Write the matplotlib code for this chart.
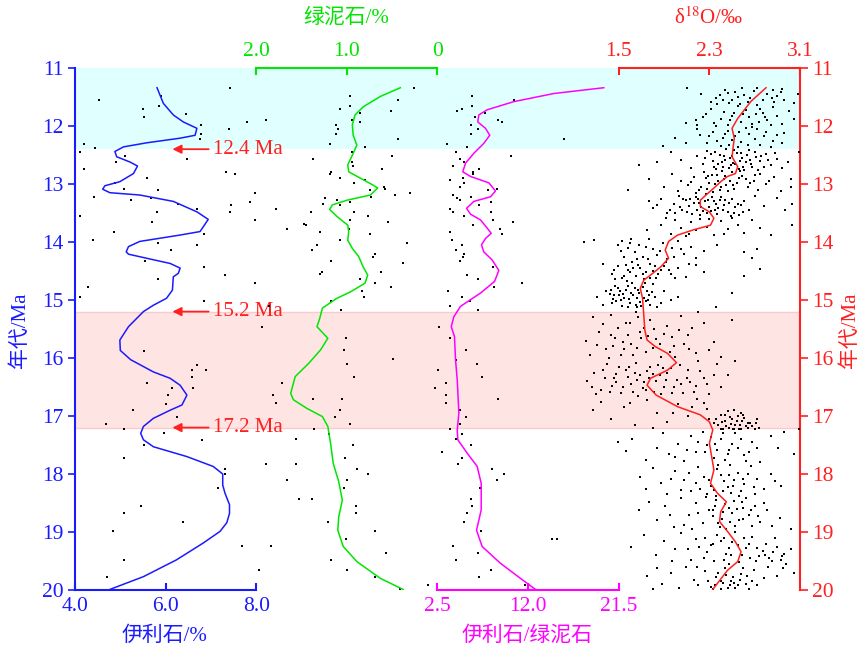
import matplotlib
matplotlib.use("Agg")
import matplotlib.pyplot as plt

plt.rcParams['font.family'] = ['Liberation Serif', 'Noto Sans CJK SC', 'DejaVu Sans']
plt.rcParams['mathtext.fontset'] = 'stix'

# ---------------- data ----------------
ill_age = [11.34, 11.61, 11.81, 11.93, 12.04, 12.16, 12.21, 12.29, 12.36, 12.44, 12.53, 12.62, 12.69, 12.82,
           12.96, 13.03, 13.09, 13.15, 13.19, 13.30, 13.48, 13.61, 13.82, 13.88, 13.99, 14.08, 14.17, 14.21,
           14.28, 14.37, 14.45, 14.54, 14.60, 14.83, 14.97, 15.09, 15.20, 15.46, 15.69, 15.87, 16.03, 16.24,
           16.35, 16.47, 16.64, 16.81, 16.90, 17.04, 17.18, 17.30, 17.41, 17.53, 17.70, 17.87, 18.00, 18.19,
           18.33, 18.53, 18.68, 18.84, 18.99, 19.19, 19.48, 19.77, 19.99]
ill_val = [5.81, 5.95, 6.17, 6.39, 6.69, 6.65, 6.32, 5.58, 5.07, 4.88, 4.92, 5.21, 5.38, 5.29,
           4.99, 4.66, 4.61, 4.77, 5.43, 6.17, 6.69, 6.94, 6.76, 6.32, 5.43, 5.18, 5.13, 5.18,
           5.58, 6.10, 6.32, 6.28, 6.17, 6.15, 6.02, 5.73, 5.51, 5.18, 4.99, 5.00, 5.23, 5.73,
           6.10, 6.32, 6.47, 6.36, 6.10, 5.73, 5.51, 5.45, 5.51, 5.73, 6.47, 7.05, 7.26, 7.26,
           7.31, 7.41, 7.41, 7.35, 7.20, 6.83, 6.24, 5.51, 4.77]

chl_age = [11.34, 11.49, 11.67, 11.81, 11.98, 12.16, 12.33, 12.47, 12.67, 12.79, 12.90, 13.02, 13.07, 13.19,
           13.28, 13.36, 13.44, 13.56, 13.71, 13.82, 13.97, 14.11, 14.25, 14.43, 14.57, 14.71, 14.86, 14.97,
           15.14, 15.32, 15.46, 15.66, 15.86, 16.09, 16.32, 16.61, 16.72, 16.87, 17.01, 17.18, 17.47, 17.82,
           18.13, 18.45, 18.74, 18.97, 19.25, 19.51, 19.80, 19.99]
chl_val = [0.41, 0.63, 0.82, 0.91, 0.94, 0.93, 0.89, 0.93, 0.99, 0.98, 0.85, 0.71, 0.66, 0.74,
           1.00, 1.16, 1.19, 1.11, 0.99, 0.98, 0.99, 0.94, 0.87, 0.82, 0.77, 0.80, 0.96, 1.11,
           1.27, 1.30, 1.33, 1.21, 1.29, 1.42, 1.57, 1.62, 1.59, 1.44, 1.27, 1.21, 1.18, 1.15,
           1.09, 1.05, 1.09, 1.10, 1.04, 0.89, 0.63, 0.38]

ratio_age = [11.34, 11.44, 11.58, 11.72, 11.81, 11.93, 12.04, 12.16, 12.30, 12.47, 12.64, 12.79, 12.87, 12.98,
             13.12, 13.22, 13.30, 13.42, 13.52, 13.62, 13.76, 13.85, 13.94, 14.05, 14.17, 14.31, 14.49, 14.68,
             14.88, 15.11, 15.29, 15.46, 15.63, 16.03, 16.38, 16.95, 17.24, 17.41, 17.64, 17.87, 18.16, 18.62,
             18.97, 19.25, 19.54, 19.80, 19.99]
ratio_val = [19.93, 14.69, 10.50, 7.71, 6.83, 6.72, 7.53, 7.98, 7.35, 6.31, 5.44, 5.15, 5.96, 7.88,
             8.58, 8.06, 6.31, 5.54, 5.96, 7.01, 7.71, 8.13, 7.53, 7.11, 7.35, 8.23, 8.93, 8.48,
             7.01, 4.91, 4.21, 3.94, 4.28, 4.39, 4.57, 4.74, 4.57, 4.63, 5.61, 6.66, 7.08, 7.08,
             6.59, 7.18, 9.10, 11.20, 12.77]

d18o_age = [11.34, 11.58, 11.87, 12.04, 12.21, 12.36, 12.53, 12.70, 12.82, 12.87, 12.96, 13.07, 13.19, 13.28,
            13.39, 13.48, 13.59, 13.71, 13.79, 13.88, 13.99, 14.14, 14.28, 14.43, 14.54, 14.66, 14.80, 14.97,
            15.23, 15.52, 15.69, 15.80, 15.92, 16.08, 16.21, 16.35, 16.47, 16.64, 16.84, 16.98, 17.10, 17.24,
            17.47, 17.70, 17.93, 18.16, 18.33, 18.48, 18.65, 18.82, 18.99, 19.17, 19.34, 19.51, 19.66, 19.99]
d18o_val = [2.80, 2.665, 2.55, 2.50, 2.52, 2.51, 2.50, 2.55, 2.53, 2.46, 2.40, 2.34, 2.27, 2.22,
            2.22, 2.30, 2.34, 2.31, 2.16, 2.02, 1.94, 1.91, 1.94, 1.87, 1.80, 1.72, 1.69, 1.71,
            1.72, 1.73, 1.75, 1.82, 1.93, 2.01, 1.93, 1.78, 1.75, 1.83, 2.02, 2.22, 2.30, 2.33,
            2.30, 2.32, 2.34, 2.31, 2.37, 2.45, 2.40, 2.39, 2.46, 2.53, 2.58, 2.55, 2.46, 2.33]

# sample points (value, age)
ill_dots = [(7.41, 11.34), (5.90, 11.48), (4.53, 11.55), (5.86, 11.65), (5.49, 11.71), (5.52, 11.84),
            (6.45, 11.79), (7.79, 11.93), (8.21, 11.90), (6.77, 11.98), (7.40, 12.05), (6.78, 12.14),
            (6.76, 12.22), (4.20, 12.31), (4.11, 12.44), (4.44, 12.38), (5.10, 12.52), (6.47, 12.57),
            (4.91, 12.62), (4.20, 12.74), (7.33, 12.80), (7.53, 12.83), (5.60, 12.89), (4.88, 12.98),
            (5.08, 13.09), (5.83, 13.10), (7.97, 13.15), (4.42, 13.22), (5.24, 13.28), (5.68, 13.24),
            (6.27, 13.34), (6.70, 13.43), (7.44, 13.37), (7.86, 13.31), (8.43, 13.43), (7.42, 13.49),
            (4.11, 13.56), (5.80, 13.49), (7.97, 13.62), (5.69, 13.65), (4.86, 13.82), (6.85, 13.87),
            (4.39, 13.97), (5.83, 14.01), (6.69, 14.06), (6.12, 14.14), (5.55, 14.32), (6.85, 14.43),
            (7.30, 14.57), (5.83, 14.64), (7.97, 14.70), (4.28, 14.77), (4.11, 14.94), (6.85, 15.01),
            (8.13, 15.46), (5.52, 15.88), (6.69, 16.12), (6.59, 16.21), (6.89, 16.21), (6.59, 16.32),
            (5.58, 16.43), (6.13, 16.52), (6.61, 16.52), (6.05, 16.64), (6.00, 16.79), (5.27, 16.90),
            (6.25, 17.01), (4.68, 17.14), (5.09, 17.22), (5.97, 17.30), (6.80, 17.41), (5.53, 17.50),
            (5.09, 17.72), (7.31, 17.91), (7.30, 18.00), (7.15, 18.24), (5.45, 18.55), (5.08, 18.67),
            (6.38, 18.82), (4.83, 18.98), (7.68, 19.24), (8.32, 19.24), (5.09, 19.49), (8.05, 19.66),
            (4.70, 19.77)]

chl_dots = [(0.26, 11.34), (0.96, 11.48), (0.44, 11.55), (1.08, 11.71), (0.96, 11.65), (0.51, 11.74),
            (0.86, 11.78), (1.89, 11.90), (0.85, 11.93), (0.94, 11.90), (1.12, 11.98), (1.10, 12.05),
            (1.12, 12.14), (0.44, 12.22), (1.19, 12.31), (0.80, 12.37), (0.94, 12.44), (0.50, 12.52),
            (1.37, 12.57), (0.94, 12.62), (0.93, 12.69), (0.61, 12.74), (1.18, 12.80), (1.19, 12.83),
            (1.08, 12.89), (0.80, 12.93), (0.92, 12.98), (0.59, 13.06), (0.75, 13.10), (0.58, 13.09),
            (0.47, 13.19), (0.73, 13.22), (0.30, 13.15), (1.24, 13.24), (1.11, 13.28), (0.97, 13.31),
            (1.26, 13.34), (1.78, 13.43), (1.08, 13.37), (0.92, 13.48), (1.40, 13.49), (0.77, 13.56),
            (0.96, 13.62), (0.55, 13.66), (1.47, 13.69), (1.45, 13.71), (1.66, 13.78), (0.98, 13.78),
            (1.30, 13.83), (0.74, 13.87), (1.08, 13.97), (0.34, 14.01), (1.33, 14.06), (1.39, 14.14),
            (0.69, 14.21), (0.71, 14.25), (1.17, 14.33), (0.38, 14.36), (1.27, 14.51), (1.30, 14.56),
            (0.62, 14.51), (0.86, 14.64), (0.69, 14.70), (0.51, 14.78), (0.83, 14.84), (0.81, 14.94),
            (1.18, 15.01), (1.86, 15.10), (1.07, 15.18), (1.01, 15.66), (1.03, 15.87), (1.00, 16.11),
            (0.49, 16.02), (0.92, 16.32), (1.72, 16.43), (1.82, 16.64), (1.78, 16.78), (1.37, 16.71),
            (1.05, 16.71), (1.08, 16.90), (1.13, 17.01), (0.97, 17.14), (1.36, 17.22), (1.56, 17.40),
            (1.20, 17.31), (0.93, 17.50), (1.02, 17.72), (1.89, 17.83), (1.56, 17.83), (0.89, 17.91),
            (0.77, 18.00), (1.66, 18.11), (1.00, 18.11), (1.03, 18.24), (1.53, 18.43), (1.39, 18.43),
            (0.90, 18.55), (0.90, 18.67), (1.21, 18.82), (0.69, 18.98), (1.01, 19.12), (0.57, 19.36),
            (1.18, 19.49), (1.00, 19.66), (0.69, 19.77), (0.41, 19.99), (0.10, 19.91)]

ratio_dots = [(6.14, 11.48), (10.57, 11.55), (5.09, 11.71), (4.56, 11.74), (6.14, 11.65), (7.46, 11.78),
              (6.41, 11.84), (8.86, 11.90), (9.21, 11.93), (6.03, 11.98), (6.77, 12.05), (6.03, 12.14),
              (15.81, 12.22), (3.52, 12.31), (5.61, 12.37), (4.46, 12.44), (10.22, 12.52), (4.81, 12.57),
              (5.33, 12.62), (4.14, 12.69), (6.90, 12.74), (6.24, 12.80), (6.24, 12.83), (5.19, 12.89),
              (3.76, 12.93), (5.26, 12.98), (4.81, 13.05), (8.76, 13.09), (7.81, 13.10), (4.14, 13.19),
              (6.06, 13.22), (4.56, 13.24), (4.84, 13.28), (8.13, 13.31), (6.90, 13.37), (3.76, 13.43),
              (4.14, 13.49), (8.13, 13.49), (5.26, 13.56), (8.34, 13.62), (10.44, 13.66), (6.24, 13.71),
              (9.00, 13.78), (9.28, 13.87), (3.76, 13.82), (4.04, 13.97), (5.09, 14.06), (4.49, 14.14),
              (5.33, 14.21), (5.19, 14.25), (4.81, 14.33), (8.34, 14.43), (5.61, 14.57), (6.77, 14.64),
              (11.38, 14.70), (8.40, 14.77), (3.62, 14.84), (5.09, 14.94), (5.89, 15.01), (3.86, 15.10),
              (6.77, 15.18), (2.68, 15.46), (3.76, 15.66), (5.44, 15.87), (4.39, 16.03), (6.66, 16.11),
              (7.19, 16.32), (2.57, 16.21), (3.34, 16.43), (2.29, 16.51), (3.34, 16.64), (3.44, 16.78),
              (8.86, 16.71), (4.91, 16.90), (5.54, 17.01), (3.79, 17.22), (4.91, 17.14), (5.02, 17.31),
              (4.39, 17.40), (5.96, 17.50), (2.99, 17.62), (5.09, 17.72), (4.67, 17.83), (8.23, 17.91),
              (9.52, 18.00), (8.76, 18.11), (6.93, 18.24), (6.03, 18.43), (6.14, 18.55), (5.61, 18.67),
              (5.33, 18.82), (7.08, 18.98), (4.14, 19.24), (6.77, 19.36), (4.39, 19.49), (8.13, 19.66),
              (6.90, 19.77), (11.72, 19.91), (14.52, 19.12), (15.05, 19.12)]

d18o_dots = [
    (2.10, 11.34), (2.23, 11.45), (2.36, 11.52), (2.44, 11.38), (2.47, 11.60), (2.55, 11.50), (2.59, 11.34),
    (2.69, 11.40), (2.77, 11.56), (2.86, 11.38), (2.90, 11.48), (2.94, 11.36), (2.96, 11.55), (3.08, 11.44),
    (2.31, 11.58), (2.39, 11.47), (2.46, 11.43), (2.50, 11.55), (2.61, 11.47), (2.64, 11.58), (2.72, 11.35),
    (2.81, 11.44), (2.87, 11.59), (2.93, 11.42), (3.05, 11.60),
    (2.18, 11.90), (2.27, 11.80), (2.31, 11.70), (2.34, 11.95), (2.40, 11.88), (2.43, 11.75), (2.46, 11.98),
    (2.50, 11.82), (2.55, 11.66), (2.58, 11.93), (2.62, 11.72), (2.65, 11.85), (2.68, 11.96), (2.72, 11.64),
    (2.77, 11.78), (2.81, 11.90), (2.86, 11.68), (2.90, 11.83), (2.94, 11.97), (3.00, 11.74), (3.05, 11.88),
    (2.09, 11.94), (2.19, 11.98), (2.24, 11.85), (2.37, 11.62), (2.52, 11.77), (2.74, 11.93), (2.84, 11.99),
    (2.00, 12.20), (2.19, 12.05), (2.22, 12.15), (2.28, 12.30), (2.33, 12.10), (2.37, 12.25), (2.40, 12.35),
    (2.46, 12.08), (2.53, 12.18), (2.58, 12.28), (2.62, 12.04), (2.65, 12.13), (2.70, 12.22), (2.75, 12.33),
    (2.80, 12.10), (2.86, 12.26), (2.90, 12.15), (2.94, 12.30), (1.89, 12.34), (2.09, 12.29), (2.42, 12.20),
    (2.55, 12.36), (2.72, 12.06), (2.96, 12.12),
    (1.68, 12.68), (1.84, 12.62), (1.96, 12.45), (2.05, 12.58), (2.14, 12.72), (2.19, 12.52), (2.24, 12.66),
    (2.28, 12.43), (2.33, 12.60), (2.36, 12.74), (2.39, 12.50), (2.42, 12.70), (2.45, 12.40), (2.48, 12.56),
    (2.51, 12.64), (2.54, 12.47), (2.56, 12.74), (2.59, 12.55), (2.62, 12.62), (2.65, 12.42), (2.68, 12.70),
    (2.71, 12.53), (2.75, 12.60), (2.80, 12.48), (2.84, 12.68), (2.90, 12.57), (2.94, 12.72), (2.99, 12.62),
    (3.09, 12.44), (2.31, 12.48), (2.44, 12.58), (2.47, 12.72), (2.53, 12.66), (2.58, 12.46), (2.66, 12.58),
    (2.73, 12.75), (2.60, 12.70), (2.50, 12.52), (2.38, 12.66), (2.70, 12.44),
    (1.58, 13.10), (1.77, 12.92), (1.90, 13.05), (1.97, 12.82), (2.02, 13.12), (2.05, 12.95), (2.11, 13.02),
    (2.16, 12.88), (2.21, 13.10), (2.25, 12.80), (2.30, 12.98), (2.33, 13.14), (2.37, 12.85), (2.40, 13.05),
    (2.43, 12.92), (2.46, 13.12), (2.50, 12.80), (2.54, 12.98), (2.59, 12.87), (2.64, 13.06), (2.69, 12.94),
    (2.75, 12.82), (2.80, 13.00), (2.87, 12.88), (2.93, 13.12), (3.02, 13.05), (2.27, 12.90), (2.35, 13.00),
    (2.41, 12.78), (2.48, 12.95), (2.52, 13.08), (2.57, 12.78), (2.62, 12.92), (2.70, 12.84), (2.45, 13.02),
    (2.32, 12.84), (2.18, 13.15), (2.83, 12.95), (3.02, 12.92),
    (1.77, 13.30), (1.80, 13.42), (1.87, 13.25), (1.93, 13.50), (1.99, 13.35), (2.03, 13.20), (2.06, 13.45),
    (2.09, 13.28), (2.12, 13.38), (2.15, 13.52), (2.18, 13.22), (2.21, 13.33), (2.24, 13.46), (2.27, 13.18),
    (2.30, 13.40), (2.34, 13.30), (2.37, 13.52), (2.40, 13.22), (2.43, 13.36), (2.46, 13.48), (2.50, 13.26),
    (2.53, 13.40), (2.56, 13.54), (2.61, 13.30), (2.65, 13.44), (2.70, 13.20), (2.78, 13.38), (2.90, 13.24),
    (2.97, 13.45), (3.03, 13.34), (2.13, 13.25), (2.19, 13.44), (2.26, 13.30), (2.32, 13.22), (2.38, 13.42),
    (2.44, 13.28), (2.49, 13.55), (2.58, 13.36), (2.04, 13.40), (2.22, 13.54), (2.35, 13.45), (2.28, 13.50),
    (1.75, 13.80), (1.87, 13.70), (1.96, 13.86), (2.00, 13.62), (2.05, 13.76), (2.09, 13.90), (2.14, 13.66),
    (2.18, 13.80), (2.22, 13.60), (2.28, 13.74), (2.34, 13.88), (2.40, 13.64), (2.46, 13.78), (2.50, 13.58),
    (2.55, 13.70), (2.61, 13.84), (2.68, 13.62), (2.75, 13.76), (2.84, 13.88), (3.03, 13.70), (1.92, 13.58),
    (2.12, 13.86), (2.30, 13.60), (2.43, 13.86),
    (1.19, 14.00), (1.28, 13.96), (1.49, 14.06), (1.53, 13.98), (1.58, 14.10), (1.61, 13.94), (1.64, 14.18),
    (1.68, 14.05), (1.71, 14.25), (1.77, 13.95), (1.80, 14.12), (1.84, 14.22), (1.89, 14.02), (1.93, 14.30),
    (1.97, 14.10), (2.02, 13.98), (2.08, 14.20), (2.14, 14.08), (2.18, 14.28), (2.25, 14.15), (2.37, 14.05),
    (2.61, 14.18), (2.68, 14.28), (2.72, 14.12), (1.55, 14.25), (1.66, 14.29), (1.74, 14.08), (1.86, 14.15),
    (1.99, 14.26), (2.05, 14.12),
    (1.36, 14.38), (1.44, 14.55), (1.49, 14.42), (1.53, 14.62), (1.58, 14.48), (1.62, 14.35), (1.65, 14.58),
    (1.69, 14.45), (1.74, 14.52), (1.78, 14.38), (1.83, 14.62), (1.87, 14.48), (1.92, 14.35), (1.96, 14.56),
    (2.02, 14.44), (2.09, 14.60), (2.18, 14.40), (2.25, 14.52), (2.61, 14.58), (2.75, 14.46), (1.47, 14.64),
    (1.56, 14.40), (1.72, 14.63), (1.80, 14.50), (1.90, 14.42), (2.00, 14.62), (1.60, 14.52), (2.12, 14.38),
    (1.31, 14.95), (1.39, 14.85), (1.44, 15.05), (1.47, 14.75), (1.50, 14.92), (1.53, 15.10), (1.56, 14.82),
    (1.59, 14.98), (1.62, 14.70), (1.65, 15.08), (1.68, 14.88), (1.71, 14.78), (1.74, 15.02), (1.77, 14.92),
    (1.80, 14.72), (1.84, 15.12), (1.90, 14.85), (1.96, 15.00), (2.02, 14.95), (2.36, 15.12), (2.50, 14.88),
    (1.42, 14.90), (1.52, 15.00), (1.57, 14.68), (1.61, 14.88), (1.66, 14.96), (1.70, 15.10), (1.75, 14.84),
    (1.58, 15.12), (1.64, 14.80), (1.49, 14.80), (1.82, 14.95), (1.69, 15.04), (1.54, 14.90), (1.36, 15.08),
    (1.87, 15.05), (1.78, 15.08), (1.45, 14.98),
    (1.21, 15.70), (1.27, 15.30), (1.33, 15.55), (1.39, 15.85), (1.43, 15.25), (1.47, 15.65), (1.52, 15.95),
    (1.56, 15.40), (1.61, 15.75), (1.65, 15.20), (1.69, 15.55), (1.74, 15.90), (1.78, 15.35), (1.83, 15.68),
    (1.87, 15.98), (1.93, 15.45), (1.99, 15.80), (2.05, 15.28), (2.11, 15.60), (2.18, 15.92), (2.25, 15.40),
    (2.34, 15.72), (2.40, 15.98), (2.50, 15.35), (1.25, 15.95), (1.36, 15.42), (1.45, 15.80), (1.58, 15.60),
    (1.63, 15.95), (1.72, 15.48), (1.80, 15.82), (1.90, 15.58), (2.00, 15.98), (2.08, 15.75), (2.15, 15.48),
    (1.41, 16.00), (1.55, 15.85), (1.67, 15.30), (1.76, 15.62), (1.95, 15.90), (2.20, 15.20), (2.30, 15.86),
    (1.22, 16.40), (1.28, 16.25), (1.34, 16.55), (1.40, 16.10), (1.46, 16.35), (1.52, 16.60), (1.56, 16.20),
    (1.61, 16.45), (1.65, 16.08), (1.69, 16.30), (1.74, 16.55), (1.78, 16.15), (1.83, 16.40), (1.87, 16.62),
    (1.93, 16.25), (1.99, 16.50), (2.04, 16.12), (2.10, 16.35), (2.16, 16.58), (2.22, 16.22), (2.28, 16.45),
    (2.37, 16.10), (2.46, 16.30), (2.53, 16.05), (1.30, 16.62), (1.44, 16.48), (1.58, 16.32), (1.63, 16.58),
    (1.72, 16.42), (1.80, 16.28), (1.90, 16.50), (1.96, 16.18), (2.07, 16.60), (2.13, 16.42), (2.20, 16.05),
    (2.30, 16.62), (1.50, 16.15), (1.67, 16.65), (1.85, 16.12), (2.01, 16.38), (2.40, 16.50), (1.75, 16.22),
    (1.38, 16.35), (2.25, 16.35),
    (1.27, 16.90), (1.34, 16.75), (1.43, 17.05), (1.55, 16.85), (1.64, 17.15), (1.75, 16.72), (1.84, 16.95),
    (1.93, 17.10), (2.02, 16.80), (2.11, 17.00), (2.19, 16.70), (2.28, 16.88), (2.34, 17.12), (2.40, 16.98),
    (2.44, 17.08), (2.47, 17.20), (2.50, 17.05), (2.53, 17.15), (2.56, 17.22), (2.59, 17.08), (2.62, 17.18),
    (2.66, 17.12), (2.70, 17.22), (2.72, 17.05), (2.49, 17.14), (2.42, 17.22), (2.55, 17.00), (2.38, 17.15),
    (2.60, 16.98), (2.46, 16.92), (2.30, 17.05), (2.15, 16.85), (1.98, 16.95), (1.80, 17.20), (1.60, 16.78),
    (2.25, 16.78), (2.64, 17.20), (3.09, 17.22), (2.52, 17.23), (2.58, 17.23),
    (1.49, 17.45), (1.56, 17.60), (1.62, 17.40), (1.74, 17.75), (1.84, 17.55), (1.89, 17.30), (1.94, 17.65),
    (2.02, 17.48), (2.08, 17.78), (2.14, 17.35), (2.18, 17.62), (2.24, 17.28), (2.28, 17.50), (2.34, 17.72),
    (2.40, 17.40), (2.47, 17.58), (2.53, 17.30), (2.61, 17.68), (2.68, 17.45), (2.75, 17.80), (2.84, 17.35),
    (2.91, 17.55), (2.96, 17.28), (3.05, 17.65), (2.20, 17.45), (2.31, 17.36), (2.37, 17.58), (2.44, 17.75),
    (2.50, 17.48), (2.58, 17.40), (2.65, 17.62), (2.10, 17.58), (2.00, 17.70), (2.42, 17.30), (2.72, 17.55),
    (1.69, 18.05), (1.74, 18.25), (1.80, 17.90), (1.87, 18.15), (1.93, 18.35), (2.00, 17.95), (2.08, 18.10),
    (2.14, 18.30), (2.20, 17.88), (2.25, 18.05), (2.31, 18.20), (2.37, 17.92), (2.43, 18.12), (2.49, 18.32),
    (2.55, 17.98), (2.61, 18.18), (2.67, 17.86), (2.72, 18.08), (2.78, 18.26), (2.84, 18.00), (2.93, 18.20),
    (2.28, 18.35), (2.34, 18.28), (2.40, 18.02), (2.46, 18.22), (2.52, 18.10), (2.58, 18.30), (2.64, 18.00),
    (2.18, 18.15), (2.05, 18.28), (1.96, 18.08), (2.70, 18.35), (2.48, 17.85), (2.36, 18.38), (2.22, 18.25),
    (2.88, 18.12), (2.56, 18.38), (2.12, 17.98),
    (1.68, 18.62), (1.77, 18.48), (1.84, 18.80), (1.91, 18.55), (1.99, 18.92), (2.05, 18.42), (2.12, 18.70),
    (2.18, 18.50), (2.24, 18.85), (2.30, 18.62), (2.36, 18.45), (2.41, 18.78), (2.47, 18.58), (2.53, 18.90),
    (2.59, 18.48), (2.65, 18.70), (2.70, 18.55), (2.75, 18.82), (2.81, 18.62), (2.92, 18.75), (3.02, 18.95),
    (2.27, 18.40), (2.33, 18.72), (2.39, 18.92), (2.44, 18.52), (2.50, 18.68), (2.56, 18.80), (2.62, 18.42),
    (2.68, 18.90), (2.20, 18.68), (2.08, 18.88), (1.95, 18.70), (2.78, 18.50), (2.45, 18.95), (2.60, 18.58),
    (2.35, 18.55), (2.15, 18.95), (2.85, 18.90),
    (1.61, 19.25), (1.72, 19.05), (1.83, 19.40), (1.90, 19.15), (1.97, 19.50), (2.05, 19.02), (2.11, 19.30),
    (2.18, 19.12), (2.25, 19.45), (2.31, 19.22), (2.37, 19.05), (2.45, 19.38), (2.50, 19.18), (2.56, 19.52),
    (2.62, 19.28), (2.68, 19.08), (2.74, 19.42), (2.80, 19.20), (2.86, 19.35), (2.93, 19.48), (3.02, 19.30),
    (2.28, 19.35), (2.34, 19.50), (2.40, 19.15), (2.47, 19.28), (2.53, 19.00), (2.59, 19.40), (2.65, 19.20),
    (2.71, 19.50), (2.77, 19.32), (2.83, 19.45), (2.90, 19.25), (2.96, 19.38), (2.21, 19.25), (2.14, 19.48),
    (2.00, 19.30), (2.43, 19.48), (2.88, 19.10),
    (1.75, 19.75), (1.84, 19.62), (1.88, 19.90), (1.96, 19.70), (2.03, 19.96), (2.09, 19.60), (2.16, 19.82),
    (2.26, 19.68), (2.31, 19.95), (2.36, 19.78), (2.40, 19.98), (2.44, 19.62), (2.49, 19.85), (2.53, 19.96),
    (2.58, 19.72), (2.62, 19.90), (2.69, 19.66), (2.78, 19.80), (3.05, 19.70), (2.35, 19.92), (2.42, 19.88),
    (2.46, 19.96), (2.51, 19.78), (2.55, 19.92), (2.65, 19.98), (2.72, 19.92), (2.90, 19.75), (2.20, 19.92),
    (2.29, 19.85), (1.80, 19.98), (2.95, 19.62), (2.60, 19.62)]

# additional samples read from the densest parts of the delta18O cloud
d18o_dots_dense = [
    (2.26, 12.55), (2.35, 12.45), (2.41, 12.62), (2.49, 12.68), (2.57, 12.60), (2.63, 12.50), (2.67, 12.66),
    (2.76, 12.52), (2.82, 12.58), (2.52, 12.42), (2.43, 12.52), (2.34, 12.70), (2.61, 12.76), (2.78, 12.70),
    (2.88, 12.46),
    (2.07, 13.25), (2.10, 13.48), (2.16, 13.32), (2.20, 13.26), (2.23, 13.40), (2.29, 13.28), (2.31, 13.46),
    (2.36, 13.34), (2.39, 13.28), (2.42, 13.44), (2.47, 13.32), (2.52, 13.50), (2.55, 13.34), (2.60, 13.48),
    (2.14, 12.96), (2.23, 13.05), (2.29, 12.86), (2.38, 12.94), (2.44, 12.86), (2.51, 13.02), (2.56, 12.90),
    (2.66, 12.98), (2.73, 13.10), (2.39, 13.10), (2.28, 13.08), (1.95, 13.44), (1.84, 13.36), (2.00, 13.50),
    (2.36, 12.00), (2.44, 12.14), (2.50, 12.24), (2.56, 12.10), (2.64, 12.32), (2.68, 12.02), (2.78, 12.18),
    (2.84, 12.36), (2.47, 12.32), (2.30, 12.18),
    (2.42, 11.55), (2.53, 11.42), (2.57, 11.62), (2.66, 11.52), (2.75, 11.70), (2.79, 11.85), (2.85, 11.52),
    (2.60, 11.80), (2.48, 11.90), (2.71, 11.80),
    (1.52, 14.15), (1.60, 14.02), (1.67, 14.40), (1.71, 14.55), (1.76, 14.30), (1.82, 14.42), (1.55, 14.58),
    (1.63, 14.45), (1.85, 14.55), (1.94, 14.48), (1.46, 14.48), (1.78, 14.62),
    (1.43, 14.82), (1.48, 15.02), (1.51, 14.85), (1.55, 14.96), (1.60, 15.06), (1.63, 14.92), (1.67, 14.82),
    (1.72, 14.96), (1.76, 15.00), (1.79, 14.86), (1.46, 14.92), (1.58, 14.76), (1.66, 15.12), (1.73, 14.70),
    (1.31, 15.78), (1.49, 15.48), (1.54, 15.72), (1.60, 15.40), (1.66, 15.82), (1.70, 15.66), (1.81, 15.50),
    (1.86, 15.76), (1.97, 15.64), (2.03, 15.52), (2.12, 15.85), (1.43, 15.60),
    (1.26, 16.50), (1.36, 16.20), (1.42, 16.58), (1.48, 16.42), (1.54, 16.50), (1.59, 16.15), (1.66, 16.38),
    (1.71, 16.52), (1.77, 16.35), (1.81, 16.58), (1.86, 16.30), (1.92, 16.38), (1.97, 16.60), (2.05, 16.45),
    (2.11, 16.20), (2.18, 16.48), (2.34, 16.30), (1.64, 16.25), (1.48, 16.28), (1.89, 16.18),
    (2.36, 17.05), (2.41, 17.10), (2.45, 17.18), (2.48, 17.02), (2.51, 17.22), (2.54, 17.08), (2.57, 17.16),
    (2.61, 17.04), (2.64, 17.12), (2.68, 17.18), (2.71, 17.12), (2.74, 17.20), (2.44, 16.98), (2.58, 16.95),
    (2.40, 17.22), (2.52, 16.90),
    (2.26, 17.62), (2.35, 17.48), (2.46, 17.66), (2.55, 17.55), (2.62, 17.78), (2.38, 17.85), (2.30, 18.10),
    (2.42, 18.30), (2.51, 18.20), (2.60, 18.08), (2.69, 18.22), (2.47, 18.02), (2.33, 18.62), (2.42, 18.66),
    (2.48, 18.82), (2.54, 18.60), (2.60, 18.78), (2.67, 18.62), (2.73, 18.72), (2.52, 18.46), (2.38, 18.85),
    (2.43, 19.10), (2.49, 19.40), (2.55, 19.22), (2.61, 19.10), (2.66, 19.45), (2.72, 19.28), (2.79, 19.40),
    (2.85, 19.50), (2.47, 19.55), (2.33, 19.20), (2.26, 19.10), (2.38, 19.70), (2.45, 19.74), (2.52, 19.88),
    (2.57, 19.82), (2.63, 19.76), (2.48, 19.92), (2.40, 19.84), (2.33, 19.98), (2.68, 19.84), (2.82, 19.60),
    (2.94, 19.42), (2.98, 19.55), (2.19, 19.60)]

age_ticks = [11, 12, 13, 14, 15, 16, 17, 18, 19, 20]
cyan_band = (11.0, 12.4)
pink_band = (15.2, 17.2)
events = [12.4, 15.2, 17.2]
event_labels = ['12.4 Ma', '15.2 Ma', '17.2 Ma']

# ---------------- layout ----------------
W, H = 862, 655
fig = plt.figure(figsize=(W / 100, H / 100), dpi=100)
L, R, T, B = 75, 800, 68, 590
rect = [L / W, 1 - B / H, (R - L) / W, (B - T) / H]

BLUE = '#1a1aff'
GREEN = '#00e600'
MAG = '#ff00ff'
RED = '#ff2020'
FS = 15.5

base = fig.add_axes(rect)
base.set_xlim(0, 1)
base.set_ylim(20, 11)
base.axhspan(*cyan_band, color='#e0ffff', lw=0, zorder=0)
base.axhspan(*pink_band, color='#ffe4e4', lw=0, zorder=0)
for e in pink_band:
    base.axhline(e, color='#fbcaca', lw=1.0, zorder=0.5)
base.set_xticks([])
base.set_yticks(age_ticks)
base.set_yticklabels([str(t) for t in age_ticks])
for s in ['top', 'bottom', 'right']:
    base.spines[s].set_visible(False)
base.spines['left'].set_color(BLUE)
base.spines['left'].set_linewidth(1.5)
base.tick_params(axis='y', colors=BLUE, labelcolor=BLUE, direction='out', length=5, width=1.2,
                 labelsize=FS, pad=3)

right = base.twinx()
right.set_ylim(20, 11)
right.set_yticks(age_ticks)
right.set_yticklabels([str(t) for t in age_ticks])
for s in ['top', 'bottom', 'left']:
    right.spines[s].set_visible(False)
right.spines['right'].set_color(RED)
right.spines['right'].set_linewidth(1.5)
right.tick_params(axis='y', colors=RED, labelcolor=RED, direction='out', length=6, width=1.2,
                  labelsize=FS, pad=3)


def panel(i, a, b, ticks, labels, side, color):
    d = b - a
    ax = fig.add_axes(rect, facecolor='none')
    ax.set_xlim(a - i * d, a + (4 - i) * d)
    ax.set_ylim(20, 11)
    ax.set_yticks([])
    for s in ['top', 'bottom', 'left', 'right']:
        ax.spines[s].set_visible(False)
    ax.spines[side].set_visible(True)
    ax.spines[side].set_color(color)
    ax.spines[side].set_linewidth(1.5)
    ax.spines[side].set_bounds(min(a, b), max(a, b))
    ax.set_xticks(ticks)
    ax.set_xticklabels(labels)
    ax.xaxis.set_ticks_position(side)
    ax.tick_params(axis='x', colors=color, labelcolor=color, direction='in', length=5, width=1.5,
                   labelsize=FS, pad=5)
    return ax


ax_ill = panel(0, 4.0, 8.0, [4, 6, 8], ['4.0', '6.0', '8.0'], 'bottom', BLUE)
ax_chl = panel(1, 2.0, 0.0, [2, 1, 0], ['2.0', '1.0', '0'], 'top', GREEN)
ax_rat = panel(2, 2.5, 21.5, [2.5, 12, 21.5], ['2.5', '12.0', '21.5'], 'bottom', MAG)
ax_d18 = panel(3, 1.5, 3.1, [1.5, 2.3, 3.1], ['1.5', '2.3', '3.1'], 'top', RED)

dot_kw = dict(marker='s', s=4.5, c='black', linewidths=0, zorder=2)
for ax, dots in [(ax_ill, ill_dots), (ax_chl, chl_dots), (ax_rat, ratio_dots),
                 (ax_d18, d18o_dots + d18o_dots_dense)]:
    ax.scatter([p[0] for p in dots], [p[1] for p in dots], **dot_kw)

ax_ill.plot(ill_val, ill_age, color=BLUE, lw=1.1, zorder=3)
ax_chl.plot(chl_val, chl_age, color=GREEN, lw=1.1, zorder=3)
ax_rat.plot(ratio_val, ratio_age, color=MAG, lw=1.1, zorder=3)
ax_d18.plot(d18o_val, d18o_age, color=RED, lw=1.1, zorder=3)

for e, lab in zip(events, event_labels):
    ax_ill.annotate('', xy=(6.15, e), xytext=(6.95, e),
                    arrowprops=dict(arrowstyle='-|>', color=RED, lw=1.3, mutation_scale=13,
                                    shrinkA=0, shrinkB=0))
    ax_ill.text(7.05, e, lab, color=RED, fontsize=15, va='center', ha='left')

# axis titles
fig.text(346 / W, 1 - 18 / H, '绿泥石/%', color=GREEN, fontsize=15, ha='center', va='center')
fig.text(709 / W, 1 - 18 / H, r'δ$^{18}$O/‰', color=RED, fontsize=15, ha='center', va='center')
fig.text(165 / W, 1 - 636 / H, '伊利石/%', color=BLUE, fontsize=15, ha='center', va='center')
fig.text(527 / W, 1 - 636 / H, '伊利石/绿泥石', color=MAG, fontsize=15, ha='center', va='center')
fig.text(20 / W, 1 - 330 / H, '年代/Ma', color=BLUE, fontsize=15, ha='center', va='center', rotation=90)
fig.text(850 / W, 1 - 330 / H, '年代/Ma', color=RED, fontsize=15, ha='center', va='center', rotation=90)

fig.savefig('out.png', dpi=100)
